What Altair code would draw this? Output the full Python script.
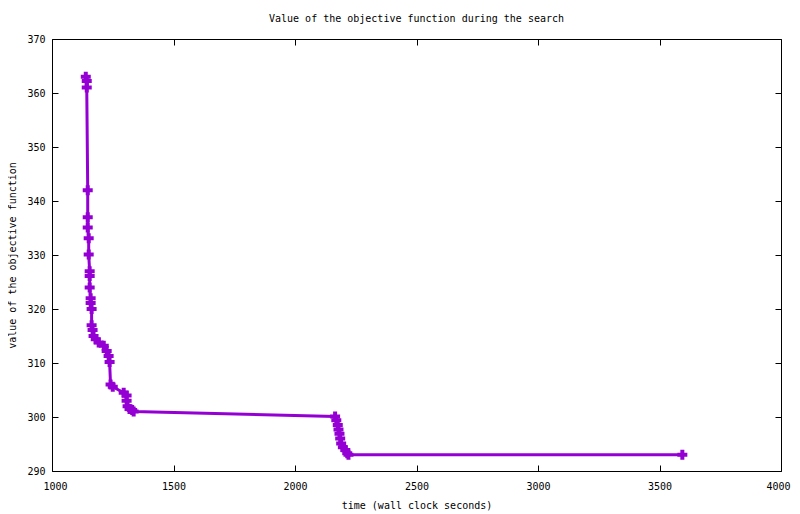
import altair as alt
import pandas as pd

# wall clock time (s) of each improvement
times = [1139, 1143, 1143, 1147, 1147, 1147, 1151, 1151, 1155, 1155,
         1155, 1159, 1159, 1163, 1163, 1167, 1171, 1180, 1192, 1213,
         1225, 1233, 1237, 1241, 1250, 1295, 1307, 1307, 1311, 1319,
         1330, 1336, 2165, 2170, 2176, 2179, 2183, 2186, 2190, 2197,
         2207, 2215, 2220, 3594]
# objective value at each improvement
values = [363.0, 362.2, 361.0, 342.0, 337.0, 335.1, 333.1, 330.1, 327.0, 326.1,
          324.0, 322.0, 321.1, 320.0, 317.0, 316.1, 315.0, 314.4, 313.8, 313.2,
          312.2, 311.3, 310.2, 306.0, 305.6, 304.5, 304.0, 303.0, 302.0, 301.5,
          301.3, 301.0, 300.1, 299.4, 298.5, 297.7, 296.9, 296.0, 295.1, 294.4,
          293.9, 293.3, 293.0, 293.0]

x_ticks = [1000, 1500, 2000, 2500, 3000, 3500, 4000]
y_ticks = [290, 300, 310, 320, 330, 340, 350, 360, 370]

df = pd.DataFrame({"t": times, "v": values, "i": list(range(len(times)))})

FONT = "DejaVu Sans Mono"
COLOR = "#9400D3"

xs = alt.Scale(domain=[1000, 4000], nice=False, zero=False)
ys = alt.Scale(domain=[290, 370], nice=False, zero=False)

common_axis = dict(
    domain=False, grid=False, tickSize=6, offset=-6, tickColor="black",
    tickWidth=1, labelFont=FONT, labelFontSize=10, labelColor="black",
    titleFont=FONT, titleFontSize=10, titleFontWeight="normal",
    titleColor="black", labelOverlap=False,
)

x_axis = alt.Axis(orient="bottom", values=x_ticks, format="d", labelPadding=10,
                  labelFlush=True, labelFlushOffset=9,
                  title="time (wall clock seconds)", titlePadding=9, **common_axis)
y_axis = alt.Axis(orient="left", values=y_ticks, format="d", labelPadding=7,
                  labelFlush=False,
                  title="value of the objective function", titlePadding=9,
                  **common_axis)
x_top = alt.Axis(orient="top", values=x_ticks, labels=False, title=None, **common_axis)
y_right = alt.Axis(orient="right", values=y_ticks, labels=False, title=None, **common_axis)

base = alt.Chart(df)

line = base.mark_line(color=COLOR, strokeWidth=3).encode(
    x=alt.X("t:Q", scale=xs, axis=x_axis),
    y=alt.Y("v:Q", scale=ys, axis=y_axis),
    order="i:Q",
)

pts = base.mark_point(shape="cross", filled=True, size=100, color=COLOR, opacity=1).encode(
    x=alt.X("t:Q", scale=xs, axis=None),
    y=alt.Y("v:Q", scale=ys, axis=None),
)

mirror = base.mark_point(opacity=0).encode(
    x=alt.X("t:Q", scale=xs, axis=x_top),
    y=alt.Y("v:Q", scale=ys, axis=y_right),
)

chart = (
    alt.layer(line, pts, mirror)
    .resolve_axis(x="independent", y="independent")
    .properties(
        width=729,
        height=432,
        autosize=alt.AutoSizeParams(type="none"),
        padding={"left": 44, "top": 31, "right": 11, "bottom": 40},
        title=alt.TitleParams(
            "Value of the objective function during the search",
            font=FONT, fontSize=10, fontWeight="normal", color="black",
            anchor="middle", offset=10,
        ),
        background="white",
    )
    .configure_view(stroke="black", strokeWidth=1)
)

chart.save("out.html", embed_options={"renderer": "svg", "actions": False})
